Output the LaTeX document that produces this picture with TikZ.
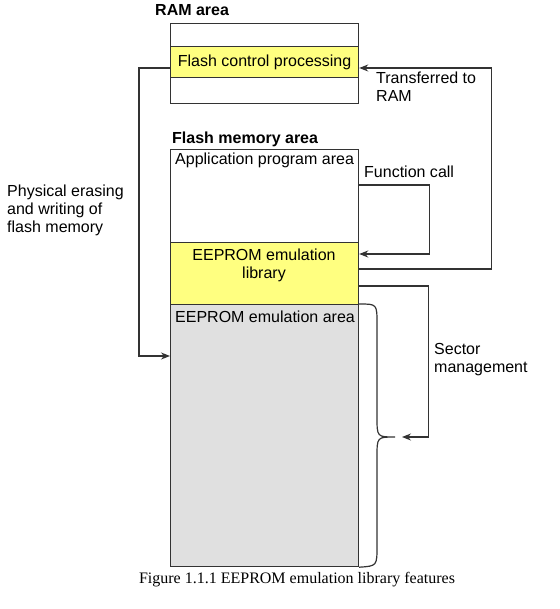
\documentclass[tikz,border=0pt]{standalone}
\usepackage{fontspec}
\setmainfont{Liberation Sans}
\newfontfamily\captionfont{Liberation Serif}
\usetikzlibrary{arrows.meta}
\definecolor{memyellow}{HTML}{FFFF80}
\definecolor{memgray}{HTML}{E0E0E0}
\definecolor{edge}{HTML}{333333}

\begin{document}
\begin{tikzpicture}[x=1pt,y=-1pt,>={Stealth[length=9pt,width=7pt]},
  every node/.style={font=\fontsize{16}{18}\selectfont},
  area/.style={draw=edge,line width=1.2pt,anchor=north west,inner sep=0pt,minimum width=188pt},
  conn/.style={->,draw=edge,line width=1.2pt},
  lbl/.style={anchor=base west,inner sep=0pt,align=left}]
  \useasboundingbox (0,0) rectangle (559,609);

  % RAM area
  \node[lbl] (ramtitle) at (155,16) {\bfseries RAM area};
  \node[area,minimum height=80pt] (ram) at (170,23) {};
  \node[area,fill=memyellow,minimum height=31pt] (fcp) at (170,46) {Flash control processing};

  % Flash memory area
  \node[lbl] (flashtitle) at (172,144) {\bfseries Flash memory area};
  \node[area,minimum height=93pt] (app) at (170,149) {};
  \node[area,fill=memyellow,minimum height=62pt] (lib) at (170,242) {};
  \node[area,fill=memgray,minimum height=262pt] (emu) at (170,304) {};
  \node[lbl] (apptxt) at (175,165) {Application program area};
  \node[anchor=base,inner sep=0pt,align=center] (libtxt) at (264,278) {EEPROM emulation\\library};
  \node[lbl] (emutxt) at (175,322) {EEPROM emulation area};

  % connectors
  \draw[conn] (lib.east |- 0,269) -- ++(132,0) |- (fcp.east |- 0,68);
  \node[lbl] (transtxt) at (376,102) {Transferred to\\RAM};

  \draw[conn] (app.east |- 0,185) -- ++(70,0) |- (lib.east |- 0,254);
  \node[lbl] (calltxt) at (364,178) {Function call};

  \draw[conn] (fcp.west |- 0,68) -- ++(-31,0) |- (emu.west |- 0,356);
  \node[lbl] (phystxt) at (7,233) {Physical erasing\\and writing of\\flash memory};

  \coordinate (tip) at (395,437);
  \draw[draw=edge,line width=1.2pt] (emu.north east) .. controls (377,304) .. (377,324)
    -- (377,417) .. controls (377,437) .. (tip)
    .. controls (377,437) .. (377,457) -- (377,546)
    .. controls (377,566) .. (emu.south east);
  \draw[conn] (lib.east |- 0,286) -- ++(69,0) |- ([xshift=7pt]tip);
  \node[lbl] (sectxt) at (434,372) {Sector\\management};

  \node[anchor=base,inner sep=0pt] (caption) at (297,583) {\captionfont Figure 1.1.1 EEPROM emulation library features};
\end{tikzpicture}
\end{document}
